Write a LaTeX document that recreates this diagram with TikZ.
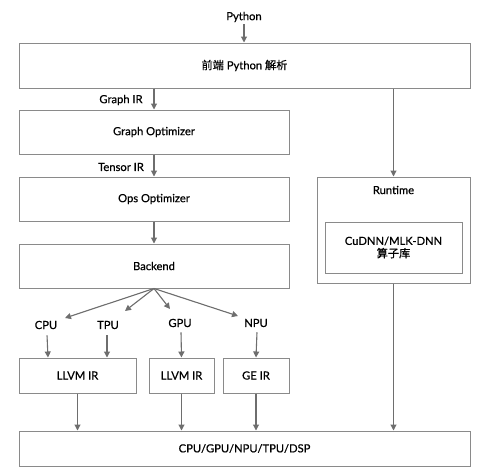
\documentclass[tikz,border=0pt]{standalone}
\usepackage{fontspec}
\setmainfont{Lato}[FakeBold=0.6]
\newfontfamily\cjk{Noto Sans CJK SC}[FakeBold=0.4]
\usetikzlibrary{arrows.meta,shadows,calc}
\definecolor{linegray}{HTML}{6E6E6E}
\definecolor{boxgray}{HTML}{8A8A8A}
\tikzset{
  box/.style={draw=boxgray, line width=1pt, fill=white, inner sep=0pt,
    drop shadow={shadow xshift=0.8pt, shadow yshift=-0.8pt, opacity=0.25, fill=black!60},
    font=\fontsize{11.2}{13.5}\selectfont, align=center},
  lab/.style={inner sep=2pt, font=\fontsize{11.2}{13.5}\selectfont},
  arr/.style={draw=linegray, line width=1.1pt, -{Triangle[width=6pt,length=6pt]}, fill=linegray},
}
\begin{document}
\begin{tikzpicture}[x=1pt,y=-1pt]
\useasboundingbox (0,0) rectangle (493,471);
% boxes
\node[box, minimum width=451pt, minimum height=45pt] (front) at (244.5,65.5) {{\cjk 前端} Python {\cjk 解析}};
\node[box, minimum width=270pt, minimum height=44pt] (gopt) at (154,132) {Graph Optimizer};
\node[box, minimum width=270pt, minimum height=44pt] (oopt) at (154,199) {Ops Optimizer};
\node[box, minimum width=270pt, minimum height=44pt] (backend) at (154,266) {Backend};
\node[box, minimum width=153pt, minimum height=106pt] (runtime) at (393.5,230) {};
\node[lab, anchor=center] (rtlab) at (393.5,190) {Runtime};
\node[box, minimum width=137pt, minimum height=51pt] (lib) at (393.5,247.5) {CuDNN/MLK-DNN\\[-1pt]{\cjk 算子库}};
\node[box, minimum width=117pt, minimum height=35pt] (llvma) at (77.5,375.5) {LLVM IR};
\node[box, minimum width=65pt, minimum height=35pt] (llvmb) at (181.5,375.5) {LLVM IR};
\node[box, minimum width=66pt, minimum height=35pt] (geir) at (256,375.5) {GE IR};
\node[box, minimum width=451pt, minimum height=35pt] (hw) at (244.5,448.5) {CPU/GPU/NPU/TPU/DSP};
% labels
\node[lab] (py) at (244,17) {Python};
\node[lab] (girlab) at (121,100) {Graph IR};
\node[lab] (tirlab) at (121,167) {Tensor IR};
\node[lab] (cpu) at (46,325) {CPU};
\node[lab] (tpu) at (108,325) {TPU};
\node[lab] (gpu) at (180,323) {GPU};
\node[lab] (npu) at (256,323) {NPU};
\coordinate (cpuT) at (65,318);
\coordinate (tpuT) at (125,311);
\coordinate (gpuT) at (170,309);
\coordinate (npuT) at (238,316);
% arrows
\draw[arr] (py.south) -- (front.north -| py.south);
\draw[arr] (gopt.north |- front.south) -- (gopt.north);
\draw[arr] (oopt.north |- gopt.south) -- (oopt.north);
\draw[arr] (backend.north |- oopt.south) -- (backend.north);
\draw[arr] (runtime.north |- front.south) -- (runtime.north);
\draw[arr] (backend.south) -- (cpuT);
\draw[arr] (backend.south) -- (tpuT);
\draw[arr] (backend.south) -- (gpuT);
\draw[arr] (backend.south) -- (npuT);
\draw[arr] ([xshift=1pt,yshift=-4pt]cpu.south) -- ([xshift=-29.5pt]llvma.north);
\draw[arr] ([xshift=-1pt,yshift=-4pt]tpu.south) -- ([xshift=-1pt]tpu.south |- llvma.north);
\draw[arr] ([xshift=1pt,yshift=-3pt]gpu.south) -- (llvmb.north);
\draw[arr] ([xshift=1pt,yshift=-3pt]npu.south) -- (geir.north);
\draw[arr] (llvma.south) -- (llvma.south |- hw.north);
\draw[arr] (llvmb.south) -- (llvmb.south |- hw.north);
\draw[arr] (geir.south) -- (geir.south |- hw.north);
\draw[arr] (runtime.south) -- (runtime.south |- hw.north);
\end{tikzpicture}
\end{document}
